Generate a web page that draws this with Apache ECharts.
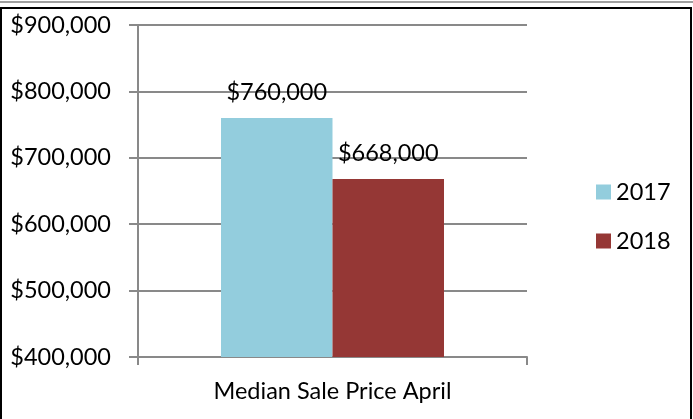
<!DOCTYPE html>
<html>
<head>
<meta charset="utf-8">
<script src="https://cdn.jsdelivr.net/npm/echarts@6/dist/echarts.min.js"></script>
<style>
  html, body { margin: 0; padding: 0; background: #fff; }
  #chart { width: 693px; height: 419px; }
</style>
</head>
<body>
<div id="chart"></div>
<script>
var categories = ["Median Sale Price April"];
var seriesNames = ["2017", "2018"];
var values2017 = [760000];
var values2018 = [668000];
var yTicks = [400000, 500000, 600000, 700000, 800000, 900000];

var font = "Lato";
var fs = 23.5;
function money(v) {
  return "$" + Number(v).toLocaleString("en-US");
}
// same label style for both bars
function barLabel() {
  return {
    show: true, position: "top", distance: 12,
    fontFamily: font, fontSize: fs, lineHeight: 28, color: "#000",
    formatter: function (p) { return money(p.value); }
  };
}

var chart = echarts.init(document.getElementById("chart"));
var option = {
  backgroundColor: "#ffffff",
  animation: false,
  color: ["#93CDDD", "#953735"],
  textStyle: { fontFamily: font },
  graphic: [
    { type: "line", shape: { x1: 0, y1: 2, x2: 693, y2: 2 }, style: { stroke: "#a0a0a0", lineWidth: 2 } },
    { type: "rect", shape: { x: 1, y: 8, width: 690, height: 420 }, style: { fill: null, stroke: "#000", lineWidth: 2 } }
  ],
  grid: { left: 138, right: 166, top: 25, bottom: 62, containLabel: false },
  legend: {
    orient: "vertical",
    left: 591,
    top: 173,
    itemWidth: 15,
    itemHeight: 15,
    itemGap: 21,
    icon: "rect",
    textStyle: { fontFamily: font, fontSize: fs, lineHeight: 28, color: "#000" },
    data: seriesNames
  },
  xAxis: {
    type: "category",
    data: categories,
    axisLine: { lineStyle: { color: "#898989", width: 2 } },
    axisTick: { show: true, length: 8, lineStyle: { color: "#898989", width: 2 } },
    axisLabel: { fontFamily: font, fontSize: fs, lineHeight: 28, color: "#000", margin: 20 }
  },
  yAxis: {
    type: "value",
    min: yTicks[0],
    max: yTicks[yTicks.length - 1],
    interval: 100000,
    axisLine: { show: true, lineStyle: { color: "#898989", width: 2 } },
    axisTick: { show: true, length: 9, lineStyle: { color: "#898989", width: 2 } },
    splitLine: { lineStyle: { color: "#898989", width: 2 } },
    axisLabel: { fontFamily: font, fontSize: fs, color: "#000", margin: 27, formatter: money }
  },
  series: [
    {
      name: seriesNames[0],
      type: "bar",
      data: values2017,
      barGap: "0%",
      barWidth: 111.5,
      label: barLabel()
    },
    {
      name: seriesNames[1],
      type: "bar",
      data: values2018,
      barGap: "0%",
      barWidth: 111.5,
      label: barLabel()
    }
  ]
};
chart.setOption(option);
</script>
</body>
</html>
